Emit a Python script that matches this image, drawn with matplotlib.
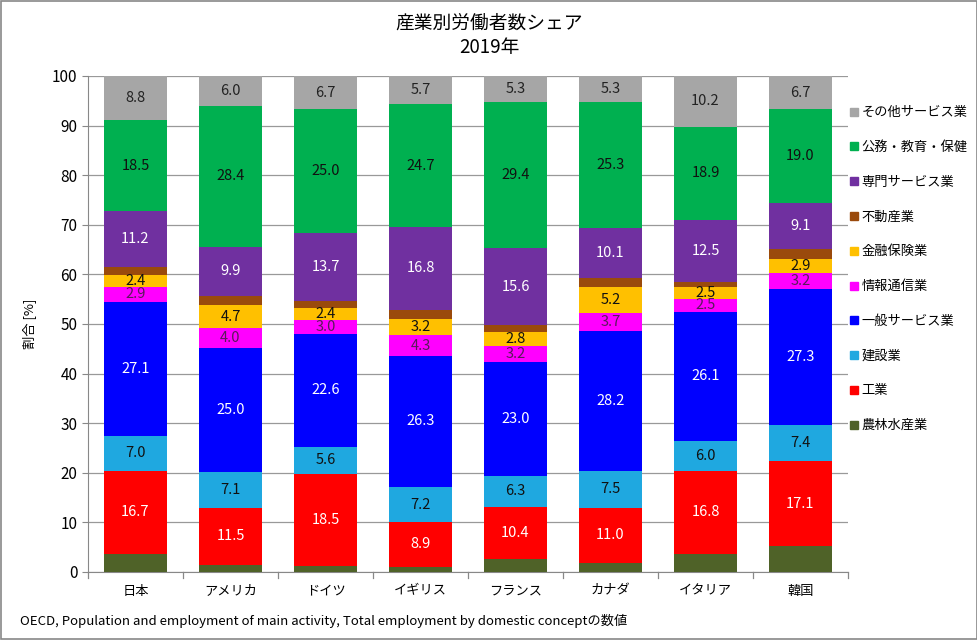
import matplotlib
matplotlib.use("Agg")
import matplotlib.pyplot as plt
from matplotlib.lines import Line2D
from matplotlib.patches import Rectangle
import numpy as np

plt.rcParams['font.family'] = ['Noto Sans CJK JP', 'DejaVu Sans']

countries = ["日本", "アメリカ", "ドイツ", "イギリス", "フランス", "カナダ", "イタリア", "韓国"]

agri      = [3.7, 1.5, 1.2, 1.1, 2.7, 1.9, 3.6, 5.2]
industry  = [16.7, 11.5, 18.5, 8.9, 10.4, 11.0, 16.8, 17.1]
construct = [7.0, 7.1, 5.6, 7.2, 6.3, 7.5, 6.0, 7.4]
general   = [27.1, 25.0, 22.6, 26.3, 23.0, 28.2, 26.1, 27.3]
info      = [2.9, 4.0, 3.0, 4.3, 3.2, 3.7, 2.5, 3.2]
finance   = [2.4, 4.7, 2.4, 3.2, 2.8, 5.2, 2.5, 2.9]
realestate= [1.7, 1.9, 1.3, 1.8, 1.3, 1.8, 0.9, 2.1]
profess   = [11.2, 9.9, 13.7, 16.8, 15.6, 10.1, 12.5, 9.1]
public    = [18.5, 28.4, 25.0, 24.7, 29.4, 25.3, 18.9, 19.0]
other     = [8.8, 6.0, 6.7, 5.7, 5.3, 5.3, 10.2, 6.7]

series = [
    ("農林水産業", agri, "#4F6228", None),
    ("工業", industry, "#FF0000", "white"),
    ("建設業", construct, "#1FA8E0", "#111111"),
    ("一般サービス業", general, "#0000FF", "white"),
    ("情報通信業", info, "#FF00FF", "#5A1A5A"),
    ("金融保険業", finance, "#FFC000", "#111111"),
    ("不動産業", realestate, "#9A4A0C", None),
    ("専門サービス業", profess, "#7030A0", "white"),
    ("公務・教育・保健", public, "#00B050", "#111111"),
    ("その他サービス業", other, "#A6A6A6", "#222222"),
]

fig = plt.figure(figsize=(9.78, 6.40), dpi=100)
ax = fig.add_axes([88/978, 1-572/640, 760/978, 496/640])

x = np.arange(len(countries))
bottom = np.zeros(len(countries))
for name, vals, color, tcol in series:
    vals = np.array(vals)
    ax.bar(x, vals, bottom=bottom, width=0.67, color=color, zorder=3, linewidth=0)
    if tcol is not None:
        for xi, b, v in zip(x, bottom, vals):
            ax.text(xi, b + v/2, f"{v:.1f}", ha="center", va="center",
                    fontsize=10.5, color=tcol, zorder=4)
    bottom += vals

ax.set_xlim(-0.5, len(countries)-0.5)
ax.set_ylim(0, 100)
ax.set_yticks(np.arange(0, 101, 10))
ax.set_xticks(x)
ax.set_xticklabels(countries, fontsize=9.5)
ax.tick_params(axis='x', length=0, pad=9)
ax.tick_params(axis='y', length=4, labelsize=11, color="#888888")
ax.yaxis.grid(True, color="#999999", linewidth=0.9, zorder=0)
ax.set_axisbelow(True)
for s in ["top", "right"]:
    ax.spines[s].set_visible(False)
ax.spines["left"].set_color("#888888")
ax.spines["bottom"].set_color("#888888")
# category separators on x axis
for b in np.arange(-0.5, len(countries)+0.5, 1.0):
    ax.plot([b, b], [0, -1.2], color="#888888", linewidth=0.9, clip_on=False)

ax.set_ylabel("割合 [%]", fontsize=9.5)
ax.yaxis.set_label_coords(-0.068, 0.5)

fig.text(0.5, 1-23/640, "産業別労働者数シェア", ha="center", va="center", fontsize=13.5)
fig.text(0.5, 1-47/640, "2019年", ha="center", va="center", fontsize=13.5)

handles = [Line2D([0], [0], marker='s', linestyle='none', markersize=5.5,
                  markerfacecolor=c, markeredgecolor=c, label=n)
           for n, v, c, t in series[::-1]]
fig.legend(handles=handles, loc="upper left", bbox_to_anchor=(842/978, 1-101/640),
           frameon=False, fontsize=9.5, labelspacing=1.65, handletextpad=0.1,
           handlelength=1.0, borderaxespad=0)

fig.text(20/978, 1-621/640, "OECD, Population and employment of main activity, Total employment by domestic conceptの数値",
         ha="left", va="center", fontsize=9.5)

fig.patches.append(Rectangle((0.001, 0.001), 0.998, 0.997, transform=fig.transFigure,
                             fill=False, edgecolor="#888888", linewidth=1.2))

fig.savefig("out.png", dpi=100)
